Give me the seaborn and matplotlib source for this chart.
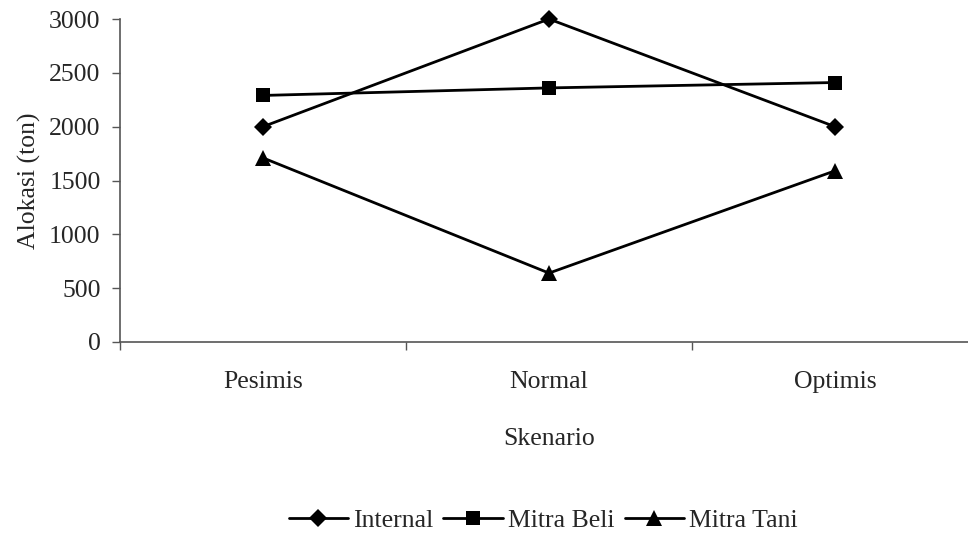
import pandas as pd
import matplotlib
matplotlib.use("Agg")
import matplotlib.pyplot as plt
import seaborn as sns
from matplotlib.ticker import FixedLocator

# data
skenario = ["Pesimis", "Normal", "Optimis"]
internal = [2000, 3000, 2000]
mitra_beli = [2290, 2360, 2410]
mitra_tani = [1710, 640, 1590]

series_names = ["Internal", "Mitra Beli", "Mitra Tani"]
series_values = [internal, mitra_beli, mitra_tani]
y_ticks = [0, 500, 1000, 1500, 2000, 2500, 3000]

rows = []
for name, vals in zip(series_names, series_values):
    for s, v in zip(skenario, vals):
        rows.append({"Skenario": s, "Alokasi": v, "Seri": name})
df = pd.DataFrame(rows)

sns.set_theme(style="white")
plt.rcParams["font.family"] = ["Liberation Serif", "DejaVu Serif"]
fs = 18.5

fig = plt.figure(figsize=(9.68, 5.35), dpi=100)
ax = fig.add_axes([120 / 968, 1 - 342 / 535, 858 / 968, 323 / 535])

markers = {"Internal": "D", "Mitra Beli": "s", "Mitra Tani": "^"}
sizes = {"Internal": 9, "Mitra Beli": 10, "Mitra Tani": 11.5}
palette = {k: "black" for k in series_names}

sns.lineplot(data=df, x="Skenario", y="Alokasi", hue="Seri", style="Seri",
             markers=markers, dashes=False, palette=palette, linewidth=2.0,
             markersize=10, ax=ax, legend=False, sort=False)

for line, name in zip(ax.get_lines(), series_names):
    line.set_markersize(sizes[name])
    line.set_markeredgewidth(0)
    line.set_clip_on(False)

ax.set_xlim(-0.5, 2.5)
ax.set_ylim(0, 3000)
ax.set_yticks(y_ticks)
ax.set_xticks(range(len(skenario)))
ax.set_xticklabels(skenario)
ax.xaxis.set_minor_locator(FixedLocator([-0.5, 0.5, 1.5, 2.5]))

spine_col = "#555555"
for side in ["top", "right"]:
    ax.spines[side].set_visible(False)
for side in ["left", "bottom"]:
    ax.spines[side].set_color(spine_col)
    ax.spines[side].set_linewidth(1.2)

ax.tick_params(axis="y", which="major", direction="out", length=6, width=1,
               color=spine_col, left=True, pad=8, labelsize=fs)
ax.tick_params(axis="x", which="major", length=0, pad=21, labelsize=fs)
ax.tick_params(axis="x", which="minor", direction="out", length=6, width=1,
               color=spine_col, bottom=True)

ax.set_ylabel("Alokasi (ton)", fontsize=fs, labelpad=6)
ax.set_xlabel("Skenario", fontsize=fs, labelpad=25)
ax.grid(False)

handles = [plt.Line2D([], [], color="black", linewidth=2.0, marker=markers[n],
                      markersize=sizes[n], markeredgewidth=0) for n in series_names]
fig.legend(handles, series_names, loc="center", bbox_to_anchor=(0.561, 0.027),
           ncol=3, frameon=False, fontsize=fs, handlelength=2.3,
           handletextpad=0.2, columnspacing=0.4)

fig.savefig("out.png", dpi=100)
